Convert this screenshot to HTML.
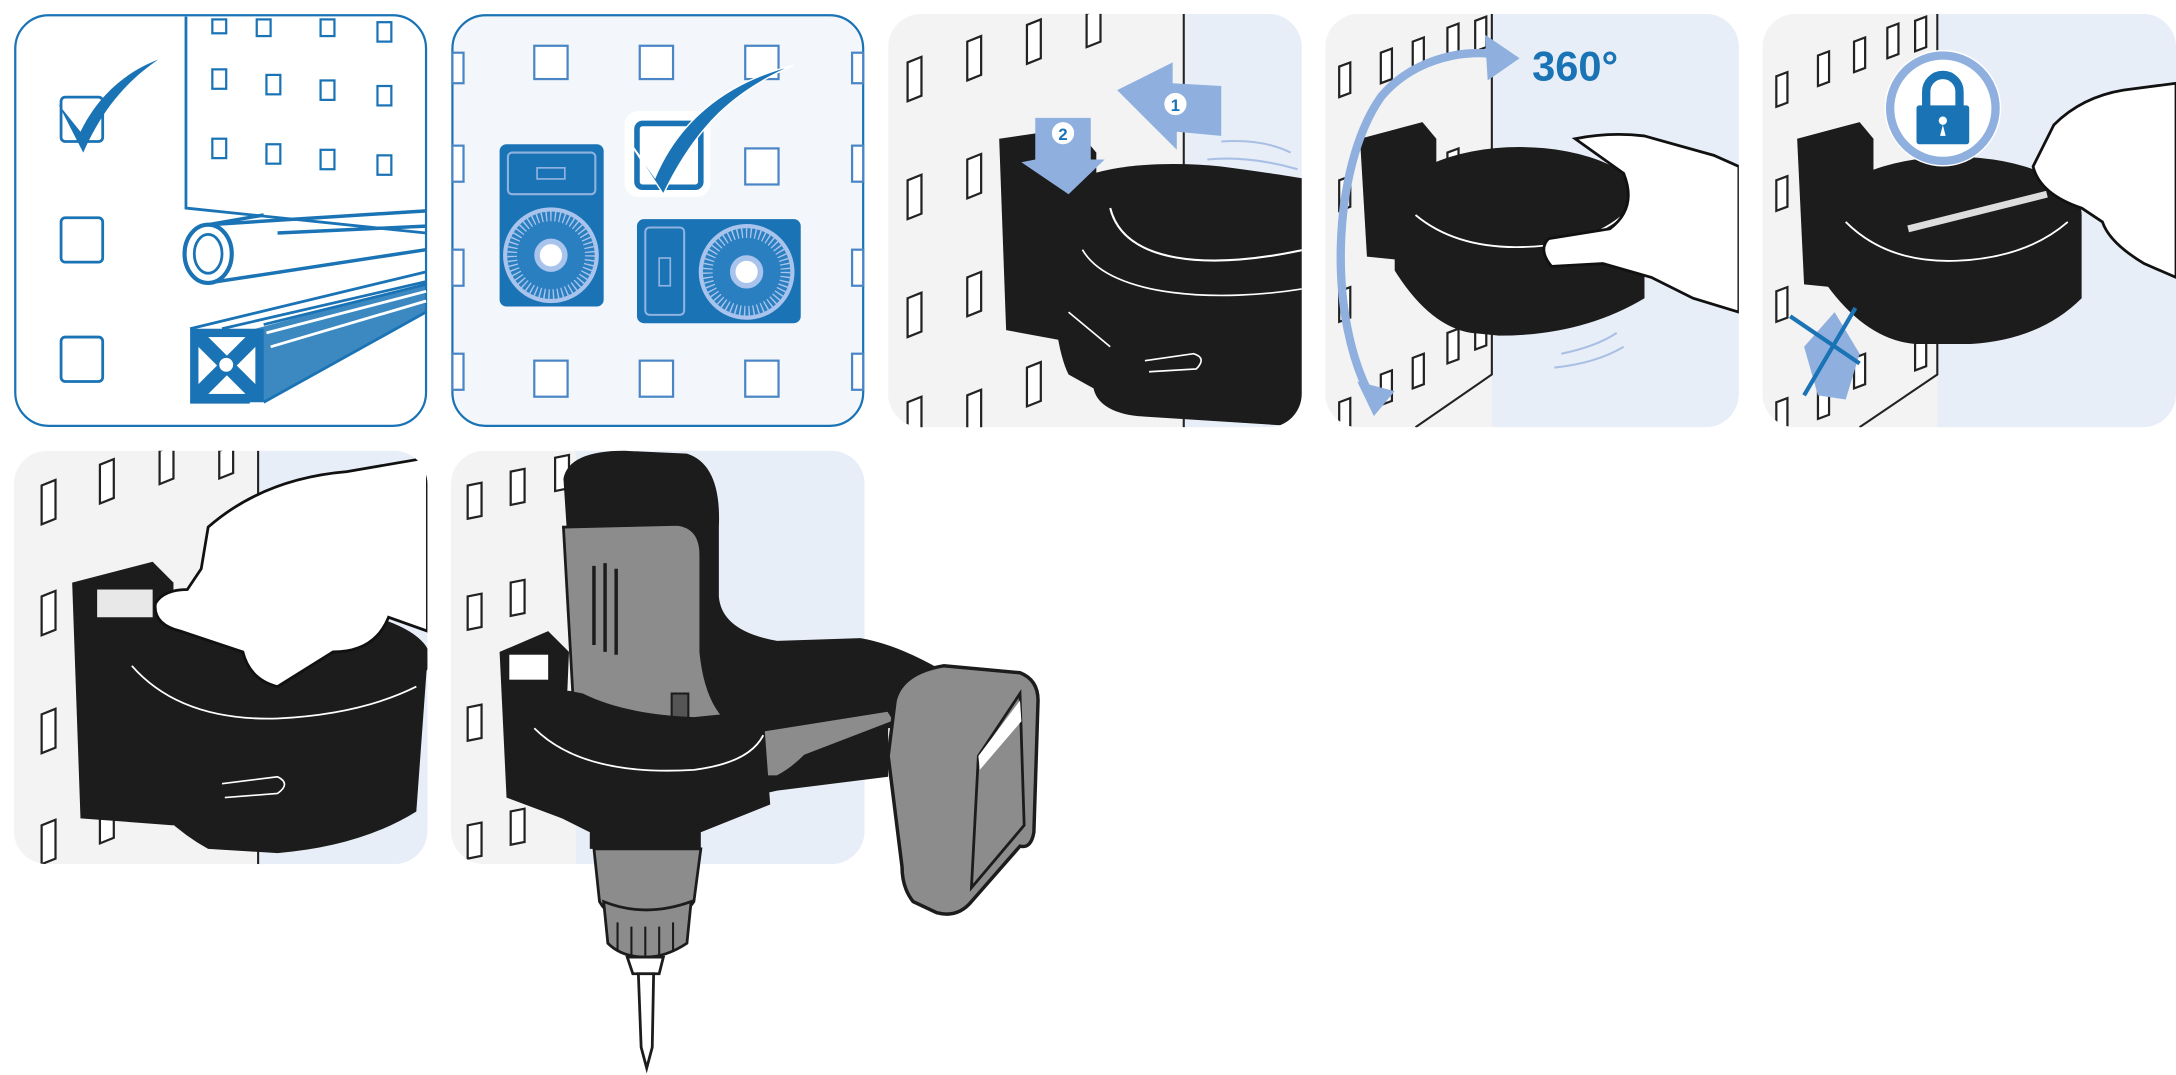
<!DOCTYPE html>
<html><head><meta charset="utf-8"><style>
html,body{margin:0;padding:0;background:#fff;width:2176px;height:1075px;overflow:hidden}
svg{display:block}
</style></head><body>
<svg width="2176" height="1075" viewBox="0 0 1568 775" preserveAspectRatio="none" xmlns="http://www.w3.org/2000/svg">
<defs>
<clipPath id="c3"><rect x="640" y="10" width="298" height="298" rx="24"/></clipPath>
<clipPath id="c4"><rect x="955" y="10" width="298" height="298" rx="24"/></clipPath>
<clipPath id="c5"><rect x="1270" y="10" width="298" height="298" rx="24"/></clipPath>
<clipPath id="c6"><rect x="10" y="325" width="298" height="298" rx="24"/></clipPath>
<clipPath id="c7"><rect x="325" y="325" width="298" height="298" rx="24"/></clipPath>
</defs>

<!-- Panel 1 -->
<rect x="11" y="11" width="296" height="296" rx="24" fill="#fff" stroke="#1a73b5" stroke-width="1.6"/>
<g stroke="#1a73b5" fill="none" stroke-width="2">
<path d="M134 12 V150 L307 168"/>
<g stroke-width="1.6">
<rect x="153" y="14" width="10" height="10"/><rect x="185" y="14" width="10" height="12"/><rect x="231" y="14" width="10" height="12"/><rect x="272" y="16" width="10" height="14"/>
<rect x="153" y="50" width="10" height="14"/><rect x="192" y="54" width="10" height="14"/><rect x="231" y="58" width="10" height="14"/><rect x="272" y="62" width="10" height="14"/>
<rect x="153" y="100" width="10" height="14"/><rect x="192" y="104" width="10" height="14"/><rect x="231" y="108" width="10" height="14"/><rect x="272" y="112" width="10" height="14"/>
</g>
<rect x="44" y="70" width="30" height="32" rx="3"/>
<rect x="44" y="157" width="30" height="32" rx="3"/>
<rect x="44" y="243" width="30" height="32" rx="3"/>
<ellipse cx="150" cy="183" rx="17" ry="21" stroke-width="3"/>
<ellipse cx="150" cy="183" rx="10" ry="14"/>
<path d="M150 162 L307 152 M150 204 L307 180 M150 162 L190 155 M200 168 L307 163" stroke-width="2.5"/>
<path d="M137 237 L307 196 M190 234 L307 205 M190 290 L307 225 M137 290 L180 290 M160 237 L307 203"/>
</g>
<rect x="137" y="237" width="53" height="53" fill="#1a73b5"/>
<rect x="143" y="243" width="41" height="41" fill="#fff"/>
<path d="M143 243 L184 284 M184 243 L143 284" stroke="#1a73b5" stroke-width="10"/>
<circle cx="163" cy="263" r="5" fill="#fff"/>
<path d="M184 237 L307 204 L307 225 L190 290 Z" fill="#1a73b5" opacity=".85"/>
<path d="M192 240 L307 210" stroke="#fff" stroke-width="2"/>
<path d="M195 250 L307 217" stroke="#fff" stroke-width="2"/>
<path d="M42 75 L58 95 C70 70 90 52 114 43 C92 58 74 78 60 110 Z" fill="#1a73b5"/>

<!-- Panel 2 -->
<rect x="326" y="11" width="296" height="296" rx="24" fill="#f3f6fb" stroke="#1a73b5" stroke-width="1.6"/>
<g fill="#fff" stroke="#4a86c6" stroke-width="1.6">
<rect x="385" y="33" width="24" height="24"/><rect x="461" y="33" width="24" height="24"/><rect x="537" y="33" width="24" height="24"/>
<rect x="537" y="107" width="24" height="26"/>
<rect x="385" y="260" width="24" height="26"/><rect x="461" y="260" width="24" height="26"/><rect x="537" y="260" width="24" height="26"/>
<rect x="326" y="38" width="8" height="22"/><rect x="326" y="105" width="8" height="26"/><rect x="326" y="180" width="8" height="26"/><rect x="326" y="255" width="8" height="26"/>
<rect x="614" y="38" width="8" height="22"/><rect x="614" y="105" width="8" height="26"/><rect x="614" y="180" width="8" height="26"/><rect x="614" y="255" width="8" height="26"/>
</g>
<rect x="360" y="104" width="75" height="117" rx="5" fill="#1a73b5"/>
<rect x="366" y="110" width="63" height="30" rx="3" fill="none" stroke="#8fb3e0" stroke-width="1.5"/>
<rect x="387" y="121" width="20" height="8" fill="none" stroke="#8fb3e0" stroke-width="1.2"/>
<circle cx="397" cy="184" r="33" fill="#2a7fc0" stroke="#a9c4ec" stroke-width="3"/>
<circle cx="397" cy="184" r="28" fill="none" stroke="#a9c4ec" stroke-width="7" stroke-dasharray="1 2.2"/>
<circle cx="397" cy="184" r="10" fill="#fff" stroke="#a9c4ec" stroke-width="4"/>
<rect x="459" y="158" width="118" height="75" rx="5" fill="#1a73b5"/>
<rect x="465" y="164" width="28" height="63" rx="3" fill="none" stroke="#8fb3e0" stroke-width="1.5"/>
<rect x="475" y="186" width="8" height="20" fill="none" stroke="#8fb3e0" stroke-width="1.2"/>
<circle cx="538" cy="196" r="33" fill="#2a7fc0" stroke="#a9c4ec" stroke-width="3"/>
<circle cx="538" cy="196" r="28" fill="none" stroke="#a9c4ec" stroke-width="7" stroke-dasharray="1 2.2"/>
<circle cx="538" cy="196" r="10" fill="#fff" stroke="#a9c4ec" stroke-width="4"/>
<rect x="450" y="80" width="62" height="62" rx="10" fill="#fff"/>
<rect x="459" y="89" width="46" height="46" rx="4" fill="#fff" stroke="#1a73b5" stroke-width="4"/>
<path d="M452 100 L472 128 C488 90 520 60 572 47 C530 65 502 90 478 140 Z" fill="#1a73b5" stroke="#fff" stroke-width="1"/>

<!-- Panel 3 -->
<g clip-path="url(#c3)">
<rect x="640" y="10" width="298" height="298" fill="#f3f3f4"/>
<rect x="853" y="10" width="90" height="298" fill="#e8eef8"/>
<path d="M853 10 V308" stroke="#222" stroke-width="1.5"/>
<g fill="#fff" stroke="#222" stroke-width="1.6">
<path d="M654 45 l10 -4 v28 l-10 4z"/><path d="M654 130 l10 -4 v28 l-10 4z"/><path d="M654 215 l10 -4 v28 l-10 4z"/><path d="M654 290 l10 -4 v28 l-10 4z"/>
<path d="M697 30 l10 -4 v28 l-10 4z"/><path d="M697 115 l10 -4 v28 l-10 4z"/><path d="M697 200 l10 -4 v28 l-10 4z"/><path d="M697 285 l10 -4 v28 l-10 4z"/>
<path d="M740 18 l10 -4 v28 l-10 4z"/><path d="M740 265 l10 -4 v28 l-10 4z"/><path d="M783 10 l10 -4 v24 l-10 4z"/>
</g>
<path d="M720 100 L775 92 L790 110 L790 250 L725 238 Z" fill="#1c1c1c"/>
<path d="M760 145 C770 120 830 115 880 120 C910 124 938 128 945 130 V308 L820 300 C800 298 790 290 788 280 L770 270 C760 250 755 200 760 145Z" fill="#1c1c1c"/>
<path d="M800 150 C810 190 870 195 940 180" stroke="#fff" stroke-width="1.5" fill="none"/>
<path d="M780 180 C800 215 880 218 940 208" stroke="#fff" stroke-width="1.2" fill="none"/>
<path d="M825 260 L860 255 Q870 258 862 266 L828 268" stroke="#fff" stroke-width="1.2" fill="none"/>
<path d="M770 225 L800 250" stroke="#fff" stroke-width="1.2"/>
<path d="M805 65 L845 45 L845 60 L880 62 L880 98 L848 95 L848 108 Z" fill="#8fb0de"/>
<circle cx="847" cy="75" r="9" fill="#fff" stroke="#8fb0de" stroke-width="2"/>
<text x="847" y="80" font-family="Liberation Sans,sans-serif" font-size="12" font-weight="bold" fill="#1a73b5" text-anchor="middle">1</text>
<path d="M746 85 L786 85 L786 115 L796 115 L770 140 L736 117 L746 115 Z" fill="#8fb0de"/>
<circle cx="766" cy="96" r="9" fill="#fff" stroke="#8fb0de" stroke-width="2"/>
<text x="766" y="101" font-family="Liberation Sans,sans-serif" font-size="12" font-weight="bold" fill="#1a73b5" text-anchor="middle">2</text>
<path d="M880 102 Q910 100 930 110 M870 115 Q900 112 935 122" stroke="#a9c0e4" stroke-width="1.5" fill="none"/>
</g>

<!-- Panel 4 -->
<g clip-path="url(#c4)">
<rect x="955" y="10" width="298" height="298" fill="#f3f3f4"/>
<rect x="1075" y="10" width="180" height="298" fill="#e8eef8"/>
<path d="M1075 10 V270 L1020 308" stroke="#222" stroke-width="1.5" fill="none"/>
<g fill="#fff" stroke="#222" stroke-width="1.6">
<path d="M965 48 l8 -3 v22 l-8 3z"/><path d="M965 130 l8 -3 v22 l-8 3z"/><path d="M965 210 l8 -3 v22 l-8 3z"/><path d="M965 290 l8 -3 v22 l-8 3z"/>
<path d="M995 38 l8 -3 v22 l-8 3z"/><path d="M995 270 l8 -3 v22 l-8 3z"/><path d="M1018 30 l8 -3 v22 l-8 3z"/><path d="M1018 258 l8 -3 v22 l-8 3z"/>
<path d="M1043 20 l8 -3 v22 l-8 3z"/><path d="M1043 110 l8 -3 v22 l-8 3z"/><path d="M1043 240 l8 -3 v22 l-8 3z"/><path d="M1063 15 l8 -3 v22 l-8 3z"/><path d="M1063 230 l8 -3 v22 l-8 3z"/>
</g>
<path d="M980 100 L1025 88 L1035 100 L1035 190 L985 185 Z" fill="#1c1c1c"/>
<ellipse cx="1095" cy="148" rx="90" ry="42" fill="#1c1c1c"/>
<path d="M1005 150 L1005 195 Q1030 235 1060 240 L1080 242 Q1140 242 1185 215 V150Z" fill="#1c1c1c"/>
<path d="M1020 155 Q1050 180 1100 178 Q1150 176 1175 150" stroke="#fff" stroke-width="1.3" fill="none"/>
<path d="M1135 100 Q1160 95 1185 98 L1235 112 L1253 120 V225 L1220 215 L1190 200 L1155 190 L1118 192 Q1108 180 1116 172 L1160 165 Q1180 150 1170 125 Z" fill="#fff" stroke="#111" stroke-width="2"/>
<path d="M990 290 C955 230 960 120 995 70 C1020 40 1060 35 1080 40" stroke="#8fb0de" stroke-width="6" fill="none"/>
<path d="M1070 25 L1095 42 L1072 58 Z" fill="#8fb0de"/>
<path d="M978 275 L1005 282 L990 300 Z" fill="#8fb0de"/>
<text x="1104" y="58" font-family="Liberation Sans,sans-serif" font-size="30" font-weight="bold" fill="#1a73b5">360°</text>
<path d="M1125 255 Q1150 250 1165 240 M1120 265 Q1150 262 1170 250" stroke="#a9c0e4" stroke-width="1.5" fill="none"/>
</g>

<!-- Panel 5 -->
<g clip-path="url(#c5)">
<rect x="1270" y="10" width="298" height="298" fill="#f3f3f4"/>
<rect x="1396" y="10" width="180" height="298" fill="#e8eef8"/>
<path d="M1396 10 V270 L1340 308" stroke="#222" stroke-width="1.5" fill="none"/>
<g fill="#fff" stroke="#222" stroke-width="1.6">
<path d="M1280 55 l8 -3 v22 l-8 3z"/><path d="M1280 130 l8 -3 v22 l-8 3z"/><path d="M1280 210 l8 -3 v22 l-8 3z"/><path d="M1280 290 l8 -3 v22 l-8 3z"/>
<path d="M1310 40 l8 -3 v22 l-8 3z"/><path d="M1310 280 l8 -3 v22 l-8 3z"/><path d="M1336 30 l8 -3 v22 l-8 3z"/><path d="M1336 258 l8 -3 v22 l-8 3z"/>
<path d="M1360 20 l8 -3 v22 l-8 3z"/><path d="M1380 15 l8 -3 v22 l-8 3z"/><path d="M1380 245 l8 -3 v22 l-8 3z"/>
</g>
<path d="M1295 100 L1340 88 L1350 100 L1350 210 L1300 205 Z" fill="#1c1c1c"/>
<ellipse cx="1408" cy="155" rx="92" ry="42" fill="#1c1c1c"/>
<path d="M1316 155 L1316 205 Q1345 245 1380 248 L1420 248 Q1470 245 1500 215 V155Z" fill="#1c1c1c"/>
<path d="M1375 165 L1475 140" stroke="#ddd" stroke-width="5"/>
<path d="M1330 160 Q1360 190 1410 188 Q1460 186 1490 160" stroke="#fff" stroke-width="1.3" fill="none"/>
<path d="M1480 90 Q1500 70 1530 65 L1568 60 V200 L1545 190 Q1520 175 1515 160 L1500 150 Q1470 140 1465 120 Z" fill="#fff" stroke="#111" stroke-width="2"/>
<circle cx="1400" cy="78" r="42" fill="#fff"/>
<circle cx="1400" cy="78" r="38" fill="#fff" stroke="#8fb0de" stroke-width="6"/>
<path d="M1388 78 V66 a12 12 0 0 1 24 0 V78" stroke="#1a73b5" stroke-width="6" fill="none"/>
<rect x="1381" y="76" width="38" height="28" rx="2" fill="#1a73b5"/>
<path d="M1400 84 a3 3 0 0 1 0 6 l2 8 h-4 l2 -8 a3 3 0 0 1 0 -6z" fill="#fff"/>
<path d="M1300 250 L1322 225 L1340 255 L1330 288 L1310 285 Z" fill="#8fb0de"/>
<path d="M1290 228 L1340 262 M1337 222 L1300 285" stroke="#1a73b5" stroke-width="3"/>
</g>

<!-- Panel 6 -->
<g clip-path="url(#c6)">
<rect x="10" y="325" width="298" height="298" fill="#f3f3f4"/>
<rect x="186" y="325" width="130" height="298" fill="#e8eef8"/>
<path d="M186 325 V623" stroke="#222" stroke-width="1.5"/>
<g fill="#fff" stroke="#222" stroke-width="1.6">
<path d="M30 350 l10 -4 v28 l-10 4z"/><path d="M30 430 l10 -4 v28 l-10 4z"/><path d="M30 515 l10 -4 v28 l-10 4z"/><path d="M30 595 l10 -4 v28 l-10 4z"/>
<path d="M72 335 l10 -4 v28 l-10 4z"/><path d="M72 580 l10 -4 v28 l-10 4z"/><path d="M115 325 l10 -4 v24 l-10 4z"/><path d="M158 325 l10 -4 v20 l-10 4z"/>
</g>
<path d="M52 420 L110 405 L125 420 L125 595 L58 590 Z" fill="#1c1c1c"/>
<rect x="70" y="425" width="40" height="20" fill="#fff" opacity=".9"/>
<ellipse cx="195" cy="475" rx="115" ry="40" fill="#1c1c1c"/>
<path d="M80 475 L80 540 Q110 590 150 612 L200 615 Q260 610 300 585 L308 475Z" fill="#1c1c1c"/>
<path d="M95 480 Q130 520 200 518 Q260 515 300 495" stroke="#fff" stroke-width="1.3" fill="none"/>
<path d="M160 565 L200 560 Q210 565 200 572 L162 575" stroke="#fff" stroke-width="1.2" fill="none"/>
<path d="M150 380 Q190 345 250 340 L308 330 V455 L280 445 Q270 470 240 470 L200 495 Q180 490 175 470 L130 455 Q110 450 112 435 Q118 425 135 425 L145 410 Z" fill="#fff" stroke="#111" stroke-width="2"/>
</g>

<!-- Panel 7 -->
<g clip-path="url(#c7)">
<rect x="325" y="325" width="298" height="298" fill="#f3f3f4"/>
<rect x="415" y="325" width="210" height="298" fill="#e8eef8"/>
<g fill="#fff" stroke="#222" stroke-width="1.6">
<path d="M337 350 l10 -2 v24 l-10 2z"/><path d="M337 430 l10 -2 v24 l-10 2z"/><path d="M337 510 l10 -2 v24 l-10 2z"/><path d="M337 595 l10 -2 v24 l-10 2z"/>
<path d="M368 340 l10 -2 v24 l-10 2z"/><path d="M368 420 l10 -2 v24 l-10 2z"/><path d="M368 585 l10 -2 v24 l-10 2z"/><path d="M400 330 l10 -2 v24 l-10 2z"/>
</g>
</g>
<!-- Drill -->
<path d="M406 345 Q410 325 450 325 L495 327 Q520 335 518 380 L518 430 Q520 455 560 462 L620 460 Q650 465 690 490 L735 510 L640 525 L640 560 L560 570 L470 590 L420 560 Z" fill="#1c1c1c"/>
<path d="M406 380 L488 378 Q505 380 505 400 L505 470 Q510 520 540 528 L640 512 L645 520 L580 545 Q570 555 560 560 L450 560 L415 540 Z" fill="#8c8c8c" stroke="#1c1c1c" stroke-width="2"/>
<path d="M428 408 V465 M436 406 V470 M444 410 V472" stroke="#1c1c1c" stroke-width="2.5"/>
<rect x="484" y="500" width="12" height="28" fill="#555" stroke="#1c1c1c" stroke-width="1.5"/>
<path d="M645 505 Q650 485 680 480 L735 485 Q748 490 748 505 L745 600 Q743 612 735 610 L700 650 Q690 662 675 658 L658 650 Q650 640 650 625 L640 545 Z" fill="#8c8c8c" stroke="#1c1c1c" stroke-width="2.5"/>
<path d="M705 545 L735 500 L738 595 L700 640 Z" fill="#8c8c8c" stroke="#1c1c1c" stroke-width="2"/>
<path d="M705 545 L735 505 L736 520 L706 555Z" fill="#fff"/>
<path d="M360 470 L395 455 L410 470 L405 590 L365 575 Z" fill="#1c1c1c"/>
<rect x="367" y="472" width="28" height="18" fill="#fff"/>
<path d="M375 520 Q380 500 410 498 L420 500 Q450 515 500 517 L550 512 L555 580 L530 590 L505 600 L505 612 L425 612 L425 600 L385 580 Q375 560 375 520Z" fill="#1c1c1c"/>
<path d="M385 525 Q420 560 500 555 Q540 550 550 530" stroke="#fff" stroke-width="1.3" fill="none"/>
<path d="M428 612 L505 612 L500 650 Q490 665 465 665 Q440 665 432 650 Z" fill="#8c8c8c" stroke="#1c1c1c" stroke-width="2"/>
<path d="M435 650 Q465 662 498 650 L495 680 Q480 690 465 690 Q448 690 438 680 Z" fill="#8c8c8c" stroke="#1c1c1c" stroke-width="2"/>
<path d="M445 665 V686 M455 668 V690 M465 668 V690 M475 668 V690 M485 665 V686" stroke="#1c1c1c" stroke-width="1.5"/>
<path d="M452 690 L478 690 L475 702 L456 702Z" fill="#fff" stroke="#1c1c1c" stroke-width="2"/>
<path d="M460 702 L471 702 L470 755 L466 770 L462 755Z" fill="#fff" stroke="#1c1c1c" stroke-width="2"/>
</svg>
</body></html>
